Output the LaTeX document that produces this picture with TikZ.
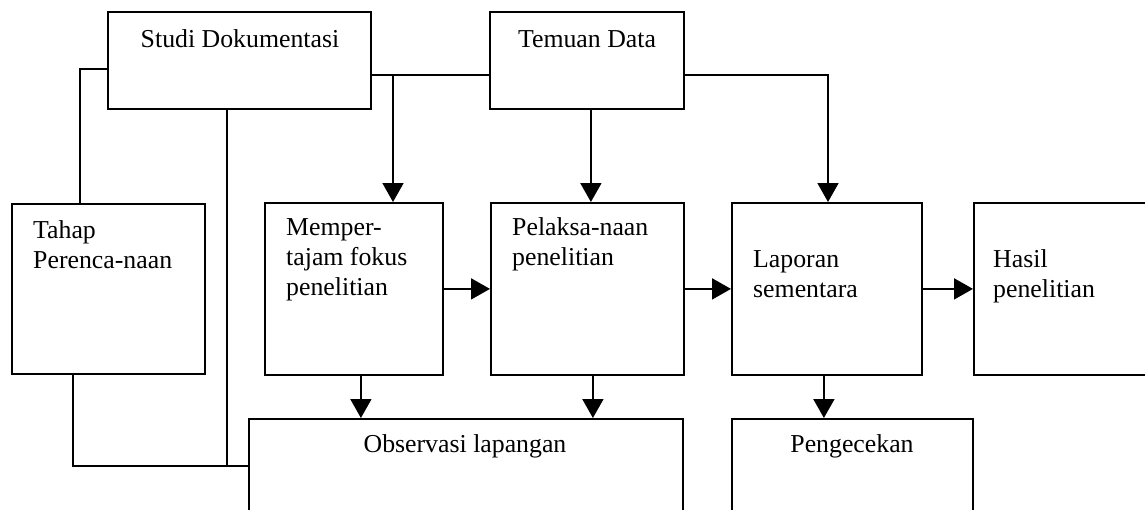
\documentclass[tikz,border=0pt]{standalone}
\usepackage{fontspec}
\setmainfont{Liberation Serif}
\usetikzlibrary{arrows.meta}
\begin{document}
\begin{tikzpicture}[x=1pt,y=-1pt,
  box/.style={draw,line width=1.8pt,rectangle,inner sep=0pt,anchor=north west},
  lbl/.style={anchor=base west,inner sep=0pt,font=\fontsize{25.8}{30}\selectfont},
  clbl/.style={anchor=base,inner sep=0pt,font=\fontsize{25.8}{30}\selectfont},
  conn/.style={line width=1.8pt},
  arr/.style={conn,-{Triangle[width=21pt,length=19pt]}}]
\useasboundingbox (0,0) rectangle (1145,509);
\clip (0,0) rectangle (1145,509);
% boxes
\node[box,minimum width=263pt,minimum height=97pt] (studi) at (107,11) {};
\node[box,minimum width=194pt,minimum height=97pt] (temuan) at (489,11) {};
\node[box,minimum width=193pt,minimum height=170pt] (tahap) at (11,203) {};
\node[box,minimum width=178pt,minimum height=172pt] (mem) at (264,202) {};
\node[box,minimum width=193pt,minimum height=172pt] (pel) at (490,202) {};
\node[box,minimum width=190pt,minimum height=172pt] (lap) at (731,202) {};
\node[box,minimum width=220pt,minimum height=172pt] (hasil) at (973,202) {};
\node[box,minimum width=434pt,minimum height=130pt] (obs) at (248,418) {};
\node[box,minimum width=241pt,minimum height=130pt] (peng) at (731,418) {};
% texts
\node[clbl] (t1) at (240,47) {Studi Dokumentasi};
\node[clbl] (t2) at (587,47) {Temuan Data};
\node[lbl] (t3a) at (33,238) {Tahap};
\node[lbl] (t3b) at (33,268) {Perenca-naan};
\node[lbl] (t4a) at (286,235) {Memper-};
\node[lbl] (t4b) at (286,265) {tajam fokus};
\node[lbl] (t4c) at (286,295) {penelitian};
\node[lbl] (t5a) at (512,235) {Pelaksa-naan};
\node[lbl] (t5b) at (512,265) {penelitian};
\node[lbl] (t6a) at (753,267) {Laporan};
\node[lbl] (t6b) at (753,297) {sementara};
\node[lbl] (t7a) at (993,267) {Hasil};
\node[lbl] (t7b) at (993,297) {penelitian};
\node[clbl] (t8) at (465,452) {Observasi lapangan};
\node[clbl] (t9) at (852,452) {Pengecekan};
% junction coordinates
\coordinate (jL) at (80,69);
\coordinate (jM) at (393,75);
\coordinate (jR) at (828,75);
\coordinate (jB) at (227,466);
\coordinate (jT) at (73,466);
% connectors
\draw[conn] (studi.west |- jL) -- (jL) -- (jL |- tahap.north);
\draw[conn] (studi.east |- jM) -- (temuan.west |- jM);
\draw[arr] (jM) -- (jM |- mem.north);
\draw[arr] (temuan.east |- jR) -- (jR) -- (jR |- lap.north);
\draw[arr] ([xshift=4pt]temuan.south) -- ([xshift=4pt]temuan.south |- pel.north);
\draw[conn] (studi.south -| jB) -- (jB);
\draw[conn] (tahap.south -| jT) -- (jT) -- (obs.west |- jT);
\draw[arr] ([xshift=7pt]mem.south) -- ([xshift=7pt]mem.south |- obs.north);
\draw[arr] ([xshift=5.5pt]pel.south) -- ([xshift=5.5pt]pel.south |- obs.north);
\draw[arr] ([xshift=-3pt]lap.south) -- ([xshift=-3pt]lap.south |- peng.north);
\draw[arr] (mem.east) -- (pel.west);
\draw[arr] (pel.east) -- (lap.west);
\draw[arr] (lap.east) -- (hasil.west |- lap.east);
\end{tikzpicture}
\end{document}
